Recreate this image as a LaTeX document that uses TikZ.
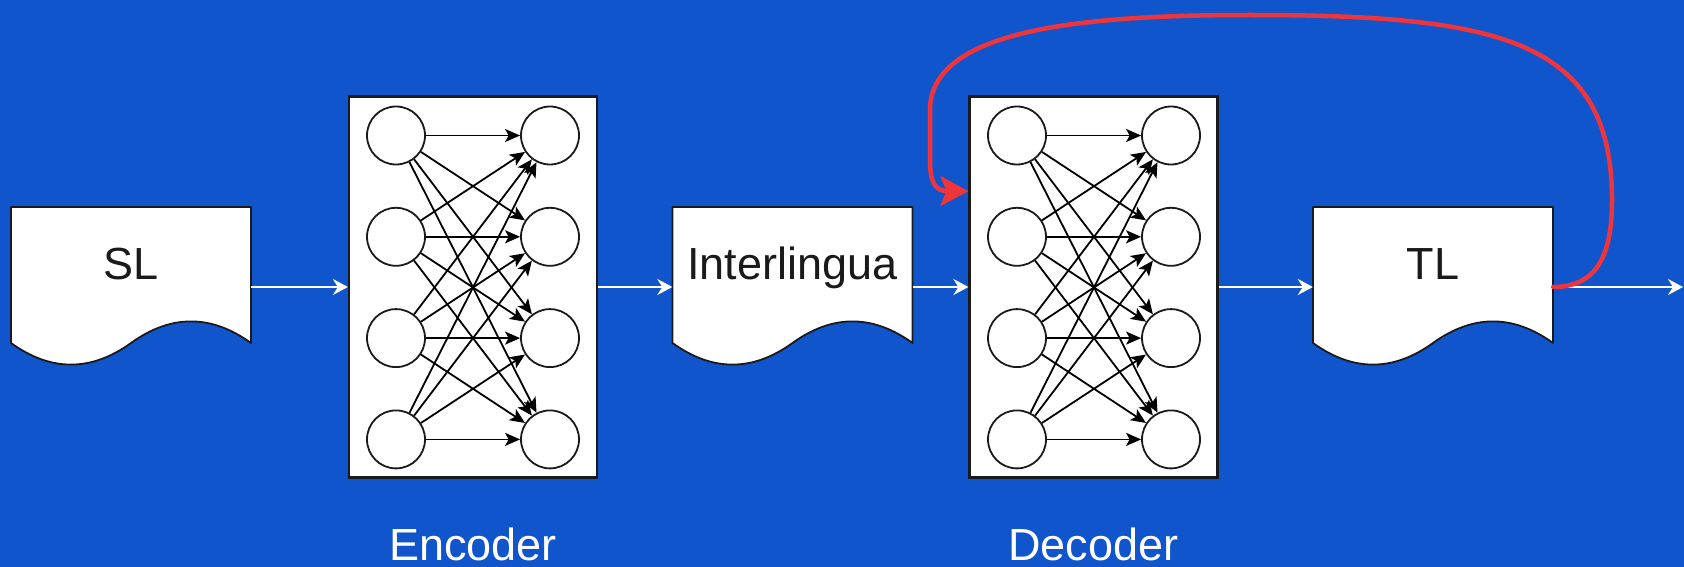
\documentclass[tikz,border=0pt]{standalone}
\usepackage{fontspec}
\setmainfont{Liberation Sans}
\usetikzlibrary{arrows.meta,calc}

\definecolor{bgblue}{HTML}{1155CC}
\definecolor{loopred}{HTML}{F0343C}
\definecolor{inkgray}{HTML}{1A1A1A}

\pgfdeclarelayer{canvas}
\pgfdeclarelayer{background}
\pgfsetlayers{canvas,background,main}

% document shape (flat top, wavy bottom) around a 240 x 160 node
\newcommand{\docoutline}[1]{%
  \begin{pgfonlayer}{background}
    \filldraw[docline]
      ([shift={(-120,-80)}]#1.center) -- ([shift={(120,-80)}]#1.center)
      -- ([shift={(120,56)}]#1.center)
      .. controls ([shift={(80,27.2)}]#1.center) and ([shift={(40,27.2)}]#1.center)
      .. ([shift={(0,56)}]#1.center)
      .. controls ([shift={(-40,84.8)}]#1.center) and ([shift={(-80,84.8)}]#1.center)
      .. ([shift={(-120,56)}]#1.center) -- cycle;
  \end{pgfonlayer}}

\begin{document}
\begin{tikzpicture}[x=1pt,y=-1pt,
  every node/.style={font=\fontsize{45}{54}\selectfont},
  docnode/.style={rectangle, minimum width=240pt, minimum height=160pt,
    inner sep=0pt, text height=32pt, text depth=48pt, text=inkgray},
  docline/.style={fill=white, draw=inkgray, line width=1.8pt, line join=round},
  netbox/.style={rectangle, draw=inkgray, fill=white, line width=2.2pt,
    minimum width=248pt, minimum height=381pt, inner sep=0pt},
  neuron/.style={circle, draw=inkgray, fill=white, line width=1.8pt,
    minimum size=58pt, inner sep=0pt},
  synapse/.style={draw=black, line width=1.8pt,
    -{Stealth[length=15pt, width=13pt, inset=3.5pt]}},
  flow/.style={draw=white, line width=2.4pt,
    -{Stealth[length=15pt, width=16pt, inset=5pt]}},
  feedback/.style={draw=loopred, line width=4.5pt, line cap=round,
    -{Stealth[length=28pt, width=30pt, inset=6pt]}},
  caption/.style={text=white, inner sep=0pt, anchor=base}]

  \useasboundingbox (0,0) rectangle (1684,567);
  \begin{pgfonlayer}{canvas}
    \fill[bgblue] (0,0) rectangle (1684,567);
  \end{pgfonlayer}

  % source, interlingua and target documents
  \node[docnode] (sl) at (131,287) {SL};
  \node[docnode] (il) at (792.5,287) {Interlingua};
  \node[docnode] (tl) at (1433,287) {TL};
  \docoutline{sl}
  \docoutline{il}
  \docoutline{tl}

  % encoder and decoder networks
  \node[netbox] (enc) at (473,287) {};
  \node[netbox] (dec) at (1093.5,287) {};

  \foreach \k/\y in {1/135.5,2/236.8,3/338.1,4/439.4} {
    \node[neuron] (ea\k) at (396,\y) {};
    \node[neuron] (eb\k) at (550,\y) {};
    \node[neuron] (da\k) at (1017,\y) {};
    \node[neuron] (db\k) at (1171,\y) {};
  }
  \foreach \i in {1,...,4} {
    \foreach \j in {1,...,4} {
      \draw[synapse] (ea\i) -- (eb\j);
      \draw[synapse] (da\i) -- (db\j);
    }
  }

  \node[caption] (enccap) at (473,560) {Encoder};
  \node[caption] (deccap) at (1093.5,560) {Decoder};

  % main pipeline
  \coordinate (outlet) at (1683,287);
  \draw[flow] (sl.east) -- (enc.west);
  \draw[flow] (enc.east) -- (il.west);
  \draw[flow] (il.east) -- (dec.west);
  \draw[flow] (dec.east) -- (tl.west);
  \draw[flow] (tl.east) -- (outlet);

  % feedback loop from the target back into the decoder
  \coordinate (decin) at ($(dec.north west)!0.25!(dec.south west)$);
  \draw[feedback] (tl.east)
    .. controls (1600,287) and (1612,250) .. (1612,200)
    .. controls (1612,40) and (1500,15) .. (1250,15)
    .. controls (1080,15) and (930,30) .. (930,110)
    -- (930,160)
    .. controls (930,184) and (936,191) .. (decin);
\end{tikzpicture}
\end{document}
